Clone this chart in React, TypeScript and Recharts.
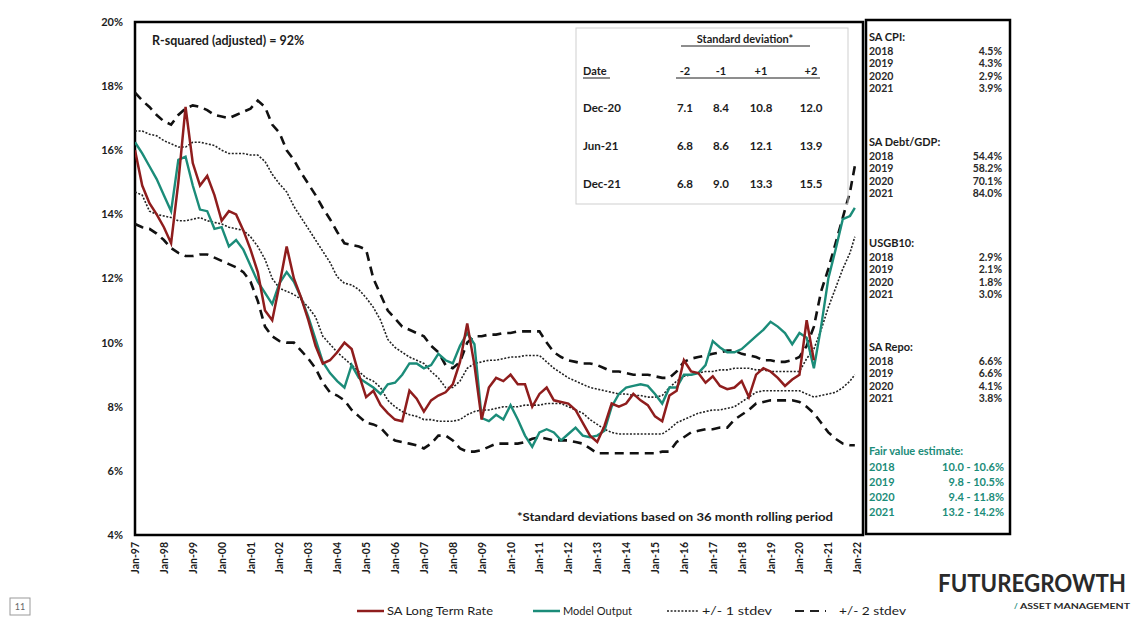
import React from "react";
import { LineChart, Line, XAxis, YAxis, ReferenceArea } from "recharts";

// Quarterly observation dates (last point Dec-21)
const periods = [
  "Jan-97","Apr-97","Jul-97","Oct-97","Jan-98","Apr-98","Jul-98","Oct-98",
  "Jan-99","Apr-99","Jul-99","Oct-99","Jan-00","Apr-00","Jul-00","Oct-00",
  "Jan-01","Apr-01","Jul-01","Oct-01","Jan-02","Apr-02","Jul-02","Oct-02",
  "Jan-03","Apr-03","Jul-03","Oct-03","Jan-04","Apr-04","Jul-04","Oct-04",
  "Jan-05","Apr-05","Jul-05","Oct-05","Jan-06","Apr-06","Jul-06","Oct-06",
  "Jan-07","Apr-07","Jul-07","Oct-07","Jan-08","Apr-08","Jul-08","Oct-08",
  "Jan-09","Apr-09","Jul-09","Oct-09","Jan-10","Apr-10","Jul-10","Oct-10",
  "Jan-11","Apr-11","Jul-11","Oct-11","Jan-12","Apr-12","Jul-12","Oct-12",
  "Jan-13","Apr-13","Jul-13","Oct-13","Jan-14","Apr-14","Jul-14","Oct-14",
  "Jan-15","Apr-15","Jul-15","Oct-15","Jan-16","Apr-16","Jul-16","Oct-16",
  "Jan-17","Apr-17","Jul-17","Oct-17","Jan-18","Apr-18","Jul-18","Oct-18",
  "Jan-19","Apr-19","Jul-19","Oct-19","Jan-20","Apr-20","Jul-20","Oct-20",
  "Jan-21","Apr-21","Jul-21","Oct-21","Dec-21",
];

const saLongTermRate = [
  16.0, 14.9, 14.35, 14.0,
  13.6, 13.1, 15.0, 17.35,
  15.6, 14.9, 15.2, 14.6,
  13.8, 14.1, 14.0, 13.5,
  12.9, 12.2, 11.0, 10.7,
  11.8, 13.0, 12.0, 11.4,
  10.7, 9.9, 9.35, 9.45,
  9.7, 10.0, 9.8, 9.0,
  8.3, 8.5, 8.05, 7.8,
  7.6, 7.55, 8.5, 8.25,
  7.85, 8.2, 8.35, 8.45,
  8.7, 9.4, 10.6, 9.3,
  7.6, 8.6, 8.9, 8.8,
  9.0, 8.7, 8.7, 8.0,
  8.4, 8.6, 8.2, 8.15,
  8.1, 7.9, 7.5, 7.1,
  6.9, 7.4, 8.1, 8.0,
  8.1, 8.4, 8.2, 8.05,
  7.7, 7.55, 8.35, 8.5,
  9.45, 9.1, 9.05, 8.75,
  8.95, 8.65, 8.55, 8.6,
  8.8, 8.3, 9.0, 9.2,
  9.1, 8.9, 8.65, 8.85,
  9.0, 10.7, 9.45, null,
  null, null, null, null, null,
];

const modelOutput = [
  16.25, 15.9, 15.5, 15.1,
  14.6, 14.1, 15.7, 15.8,
  14.9, 14.15, 14.1, 13.55,
  13.6, 13.0, 13.2, 12.9,
  12.4, 11.9, 11.55, 11.2,
  11.85, 12.2, 11.9, 11.4,
  10.8, 10.1, 9.4, 9.05,
  8.8, 8.6, 9.3, 8.9,
  8.75, 8.6, 8.4, 8.7,
  8.75, 9.0, 9.35, 9.35,
  9.2, 9.3, 9.65, 9.45,
  9.35, 9.9, 10.3, 9.95,
  7.65, 7.55, 7.75, 7.6,
  8.05, 7.6, 7.1, 6.75,
  7.2, 7.3, 7.2, 6.95,
  7.15, 7.35, 7.1, 7.05,
  7.1, 7.25, 8.0, 8.4,
  8.6, 8.65, 8.7, 8.65,
  8.4, 8.1, 8.6, 8.6,
  9.0, 9.0, 9.05, 9.3,
  10.05, 9.85, 9.7, 9.7,
  9.8, 10.0, 10.2, 10.4,
  10.65, 10.5, 10.3, 9.95,
  10.3, 10.15, 9.2, 10.5,
  12.0, 12.9, 13.85, 13.95, 14.2,
];

const plus1Stdev = [
  16.6, 16.6, 16.5, 16.45,
  16.3, 16.2, 16.1, 16.1,
  16.25, 16.25, 16.2, 16.15,
  16.0, 15.9, 15.9, 15.9,
  15.85, 15.85, 15.65, 15.25,
  14.95, 14.7, 14.25, 13.9,
  13.55, 13.2, 12.85, 12.5,
  12.05, 11.85, 11.8, 11.65,
  11.4, 11.1, 10.7, 10.1,
  9.85, 9.7, 9.55, 9.45,
  9.35, 9.1, 8.9, 8.6,
  8.6, 8.8, 9.2, 9.35,
  9.4, 9.45, 9.45, 9.5,
  9.55, 9.55, 9.6, 9.6,
  9.6, 9.4, 9.2, 9.05,
  8.9, 8.8, 8.7, 8.6,
  8.55, 8.5, 8.45, 8.4,
  8.4, 8.35, 8.35, 8.3,
  8.3, 8.35, 8.6, 8.8,
  8.95, 9.0, 9.05, 9.1,
  9.1, 9.15, 9.15, 9.2,
  9.2, 9.2, 9.15, 9.15,
  9.1, 9.1, 9.1, 9.1,
  9.1, 9.5, 9.8, 10.4,
  11.1, 11.7, 12.3, 12.8, 13.3,
];

const minus1Stdev = [
  14.7, 14.6, 14.1, 14.0,
  13.95, 13.9, 13.8, 13.8,
  13.85, 13.9, 13.8, 13.75,
  13.7, 13.6, 13.55, 13.5,
  13.3, 13.0, 12.6, 12.0,
  11.7, 11.6, 11.5, 11.35,
  11.1, 10.8, 10.2, 9.95,
  9.7, 9.5, 9.3, 9.1,
  8.9, 8.8, 8.6, 8.2,
  8.0, 7.85, 7.75, 7.7,
  7.6, 7.6, 7.55, 7.55,
  7.55, 7.6, 7.75, 7.85,
  7.9, 7.9, 7.95, 8.0,
  8.0, 8.0, 8.05, 8.05,
  8.05, 8.1, 8.1, 8.1,
  8.0, 7.9, 7.8, 7.6,
  7.45, 7.3, 7.2, 7.15,
  7.15, 7.15, 7.15, 7.15,
  7.15, 7.15, 7.3, 7.5,
  7.6, 7.7, 7.8, 7.85,
  7.9, 7.9, 7.95, 8.0,
  8.15, 8.3, 8.45, 8.5,
  8.5, 8.5, 8.5, 8.5,
  8.5, 8.4, 8.3, 8.35,
  8.4, 8.45, 8.6, 8.8, 9.0,
];

const plus2Stdev = [
  17.8, 17.55, 17.35, 17.1,
  16.9, 16.8, 17.1, 17.3,
  17.4, 17.35, 17.25, 17.1,
  17.05, 17.0, 17.1, 17.2,
  17.3, 17.55, 17.35, 16.8,
  16.55, 16.0, 15.7, 15.3,
  14.95, 14.6, 14.2, 13.85,
  13.45, 13.1, 13.05, 13.0,
  12.9, 12.0, 11.5, 11.0,
  10.75, 10.5, 10.4, 10.3,
  10.2, 9.9, 9.7, 9.3,
  9.2, 9.4, 10.0, 10.2,
  10.2, 10.25, 10.25, 10.3,
  10.3, 10.35, 10.35, 10.35,
  10.35, 10.0, 9.7, 9.55,
  9.45, 9.4, 9.35, 9.35,
  9.3, 9.2, 9.1, 9.1,
  9.05, 9.0, 9.0, 9.0,
  8.95, 8.9, 8.9, 9.1,
  9.4, 9.5, 9.55, 9.6,
  9.65, 9.7, 9.75, 9.75,
  9.65, 9.6, 9.55, 9.45,
  9.45, 9.4, 9.4, 9.45,
  9.55, 9.9, 10.5, 11.6,
  12.3, 13.1, 13.9, 14.7, 15.5,
];

const minus2Stdev = [
  13.7, 13.6, 13.55, 13.4,
  13.2, 12.95, 12.8, 12.7,
  12.7, 12.75, 12.75, 12.65,
  12.55, 12.45, 12.35, 12.2,
  11.9, 11.3, 10.5, 10.2,
  10.05, 10.0, 10.0, 9.75,
  9.5, 9.2, 8.75, 8.45,
  8.35, 8.2, 7.9, 7.7,
  7.5, 7.45, 7.35, 7.1,
  6.95, 6.9, 6.85, 6.8,
  6.7, 6.85, 7.1, 7.1,
  6.95, 6.7, 6.6, 6.6,
  6.65, 6.75, 6.85, 6.85,
  6.85, 6.85, 6.9, 7.0,
  7.05, 7.0, 6.95, 6.95,
  6.95, 6.9, 6.85, 6.7,
  6.55, 6.55, 6.55, 6.55,
  6.55, 6.55, 6.55, 6.55,
  6.55, 6.6, 6.6, 6.9,
  7.05, 7.2, 7.25, 7.3,
  7.3, 7.35, 7.35, 7.6,
  7.75, 7.9, 8.1, 8.15,
  8.2, 8.2, 8.2, 8.2,
  8.15, 8.0, 7.8, 7.5,
  7.2, 7.0, 6.85, 6.8, 6.8,
];

const xTickYears = [
  1997, 1998, 1999, 2000, 2001, 2002, 2003, 2004, 2005, 2006, 2007, 2008, 2009,
  2010, 2011, 2012, 2013, 2014, 2015, 2016, 2017, 2018, 2019, 2020, 2021, 2022,
];
const yTicks = [4, 6, 8, 10, 12, 14, 16, 18, 20];

// Standard deviation table
const sdDates = ["Dec-20", "Jun-21", "Dec-21"];
const sdMinus2 = ["7.1", "6.8", "6.8"];
const sdMinus1 = ["8.4", "8.6", "9.0"];
const sdPlus1 = ["10.8", "12.1", "13.3"];
const sdPlus2 = ["12.0", "13.9", "15.5"];

// Right side panel
const panelYears = ["2018", "2019", "2020", "2021"];
const saCpi = ["4.5%", "4.3%", "2.9%", "3.9%"];
const saDebtGdp = ["54.4%", "58.2%", "70.1%", "84.0%"];
const usgb10 = ["2.9%", "2.1%", "1.8%", "3.0%"];
const saRepo = ["6.6%", "6.6%", "4.1%", "3.8%"];
const fairValue = ["10.0 - 10.6%", "9.8 - 10.5%", "9.4 - 11.8%", "13.2 - 14.2%"];

const RED = "#8f1d1d";
const TEAL = "#1b8c79";
const INK = "#1c1c1c";
const FONT = "Lato, 'Liberation Sans', sans-serif";

const monthIdx: Record<string, number> = { Jan: 0, Apr: 3, Jul: 6, Oct: 9, Dec: 11 };
const toYear = (p: string) => {
  const [m, yy] = p.split("-");
  const y = Number(yy);
  return (y > 50 ? 1900 + y : 2000 + y) + monthIdx[m] / 12;
};

const data = periods.map((p, i) => ({
  t: toYear(p),
  rate: saLongTermRate[i],
  model: modelOutput[i],
  up1: plus1Stdev[i],
  lo1: minus1Stdev[i],
  up2: plus2Stdev[i],
  lo2: minus2Stdev[i],
}));

const XTick = (props: any) => {
  const { x, y, payload } = props;
  const label = "Jan-" + String(payload.value).slice(2);
  return (
    <text
      x={x}
      y={y}
      transform={`rotate(-90, ${x}, ${y})`}
      textAnchor="end"
      dominantBaseline="central"
      fontSize={10.5}
      fontWeight={700}
      fill={INK}
      fontFamily={FONT}
    >
      {label}
    </text>
  );
};

const panelSections = [
  { title: "SA CPI:", values: saCpi, y: 37 },
  { title: "SA Debt/GDP:", values: saDebtGdp, y: 142 },
  { title: "USGB10:", values: usgb10, y: 243 },
  { title: "SA Repo:", values: saRepo, y: 347 },
];

export default function App() {
  const colX = [685, 721, 761, 811];
  const rowsY = [108, 146, 184];
  const cols = [sdMinus2, sdMinus1, sdPlus1, sdPlus2];
  return (
    <div style={{ position: "absolute", left: 0, top: 0, width: 1139, height: 625, background: "#fff" }}>
      <LineChart
        width={1139}
        height={625}
        data={data}
        margin={{ top: 22, right: 276, left: 0, bottom: 30 }}
      >
        <XAxis
          dataKey="t"
          type="number"
          domain={[1997, 2022.2]}
          ticks={xTickYears}
          interval={0}
          tick={<XTick />}
          tickSize={0}
          tickMargin={7}
          axisLine={false}
          tickLine={false}
          height={60}
          allowDataOverflow
        />
        <YAxis
          type="number"
          domain={[4, 20]}
          ticks={yTicks}
          interval={0}
          width={135}
          tickSize={0}
          tickMargin={12}
          axisLine={false}
          tickLine={false}
          tickFormatter={(v: number) => `${v}%`}
          tick={{ fontSize: 11, fontWeight: 700, fill: INK, fontFamily: FONT }}
        />
        <ReferenceArea
          x1={1997}
          x2={2022.2}
          y1={4}
          y2={20}
          fill="none"
          fillOpacity={0}
          stroke="#000"
          strokeWidth={2.5}
          ifOverflow="visible"
        />
        <Line dataKey="up2" stroke="#111" strokeWidth={2.6} strokeDasharray="9 6" dot={false} activeDot={false} isAnimationActive={false} />
        <Line dataKey="lo2" stroke="#111" strokeWidth={2.6} strokeDasharray="9 6" dot={false} activeDot={false} isAnimationActive={false} />
        <Line dataKey="up1" stroke="#222" strokeWidth={1.6} strokeDasharray="2 1.6" dot={false} activeDot={false} isAnimationActive={false} />
        <Line dataKey="lo1" stroke="#222" strokeWidth={1.6} strokeDasharray="2 1.6" dot={false} activeDot={false} isAnimationActive={false} />
        <Line dataKey="model" stroke={TEAL} strokeWidth={2.4} dot={false} activeDot={false} isAnimationActive={false} />
        <Line dataKey="rate" stroke={RED} strokeWidth={2.5} dot={false} activeDot={false} isAnimationActive={false} />
      </LineChart>

      <svg
        width={1139}
        height={625}
        style={{ position: "absolute", left: 0, top: 0, pointerEvents: "none" }}
        fontFamily={FONT}
      >
        {/* R-squared */}
        <text x={152} y={45} fontSize={12.5} fontWeight={700} fill={INK}>
          R-squared (adjusted) = 92%
        </text>

        {/* Standard deviation table */}
        <rect x={576} y={28} width={272} height={176} fill="none" stroke="#cfcfcf" strokeWidth={1} />
        <text x={745} y={43} fontSize={11} fontWeight={700} fill={INK} textAnchor="middle">
          Standard deviation*
        </text>
        <line x1={681} x2={810} y1={46} y2={46} stroke={INK} strokeWidth={1} />
        <text x={583} y={75} fontSize={11} fontWeight={700} fill={INK}>Date</text>
        <line x1={583} x2={610} y1={78} y2={78} stroke={INK} strokeWidth={1} />
        {["-2", "-1", "+1", "+2"].map((h, i) => (
          <text key={h} x={colX[i]} y={75} fontSize={11} fontWeight={700} fill={INK} textAnchor="middle">
            {h}
          </text>
        ))}
        <line x1={676} x2={820} y1={78} y2={78} stroke={INK} strokeWidth={1} />
        {sdDates.map((d, r) => (
          <g key={d}>
            <text x={583} y={rowsY[r] + 4} fontSize={11.5} fontWeight={700} fill={INK}>{d}</text>
            {cols.map((c, i) => (
              <text key={i} x={colX[i]} y={rowsY[r] + 4} fontSize={11.5} fontWeight={700} fill={INK} textAnchor="middle">
                {c[r]}
              </text>
            ))}
          </g>
        ))}

        {/* footnote */}
        <text x={517} y={521} fontSize={10.5} fontWeight={700} fill={INK} textLength={316} lengthAdjust="spacingAndGlyphs">
          *Standard deviations based on 36 month rolling period
        </text>

        {/* Right panel */}
        <rect x={866} y={20} width={144} height={514} fill="none" stroke="#000" strokeWidth={2.5} />
        {panelSections.map((s) => (
          <g key={s.title}>
            <text x={869} y={s.y + 4} fontSize={11} fontWeight={700} fill={INK}>{s.title}</text>
            {panelYears.map((yr, i) => (
              <g key={yr}>
                <text x={869} y={s.y + 4 + 14 + i * 12.3} fontSize={10.5} fontWeight={700} fill="#2a2a2a">{yr}</text>
                <text x={1002} y={s.y + 4 + 14 + i * 12.3} fontSize={10.5} fontWeight={700} fill="#2a2a2a" textAnchor="end">{s.values[i]}</text>
              </g>
            ))}
          </g>
        ))}
        <text x={869} y={455} fontSize={11} fontWeight={700} fill={TEAL}>Fair value estimate:</text>
        {panelYears.map((yr, i) => (
          <g key={"fv" + yr}>
            <text x={869} y={471 + i * 15} fontSize={11} fontWeight={700} fill={TEAL}>{yr}</text>
            <text x={1004} y={471 + i * 15} fontSize={11} fontWeight={700} fill={TEAL} textAnchor="end">{fairValue[i]}</text>
          </g>
        ))}

        {/* Legend */}
        <line x1={357} x2={384} y1={611} y2={611} stroke={RED} strokeWidth={2.5} />
        <text x={387} y={615} fontSize={10.5} fill={INK} textLength={106} lengthAdjust="spacingAndGlyphs">SA Long Term Rate</text>
        <line x1={533} x2={560} y1={611} y2={611} stroke={TEAL} strokeWidth={2.5} />
        <text x={563} y={615} fontSize={10.5} fill={INK} textLength={69} lengthAdjust="spacingAndGlyphs">Model Output</text>
        <line x1={667} x2={699} y1={611} y2={611} stroke="#222" strokeWidth={1.6} strokeDasharray="2 1.6" />
        <text x={702} y={615} fontSize={10.5} fill={INK} textLength={70} lengthAdjust="spacingAndGlyphs">+/- 1 stdev</text>
        <line x1={795} x2={826} y1={611} y2={611} stroke="#222" strokeWidth={2} strokeDasharray="9 6" />
        <text x={839} y={615} fontSize={10.5} fill={INK} textLength={67} lengthAdjust="spacingAndGlyphs">+/- 2 stdev</text>

        {/* page number */}
        <rect x={10} y={598} width={20} height={17} fill="none" stroke="#9a9a9a" strokeWidth={1} />
        <text x={20} y={610} fontSize={9} fill="#666" textAnchor="middle">11</text>

        {/* logo */}
        <text x={938} y={592} fontSize={24} fontWeight={700} fill="#2a2a2a" textLength={188} lengthAdjust="spacingAndGlyphs">
          FUTUREGROWTH
        </text>
        <text x={1014} y={609} fontSize={8} fontWeight={700} fill={TEAL}>/</text>
        <text x={1020} y={609} fontSize={7.5} fontWeight={700} fill="#2a2a2a" textLength={110} lengthAdjust="spacingAndGlyphs">
          ASSET MANAGEMENT
        </text>
      </svg>
    </div>
  );
}
